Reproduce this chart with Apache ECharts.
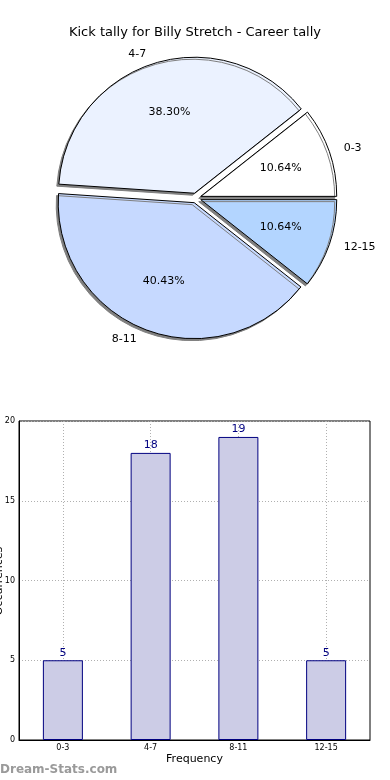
<!DOCTYPE html>
<html>
<head>
<meta charset="utf-8">
<script src="https://cdn.jsdelivr.net/npm/echarts@6/dist/echarts.min.js"></script>
<style>html,body{margin:0;padding:0;background:#fff}#c{width:390px;height:780px}</style>
</head>
<body>
<div id="c"></div>
<script>
const titleText = 'Kick tally for Billy Stretch - Career tally';
const yAxisTitle = 'Occurrences';
const categories = ['0-3', '4-7', '8-11', '12-15'];
const counts = [5, 18, 19, 5];
const yTicks = [0, 5, 10, 15, 20];
const pieColors = ['#ffffff', '#ebf2ff', '#c6d9ff', '#b3d5ff'];

const total = counts.reduce((a, b) => a + b, 0);
const font = 'DejaVu Sans';
const pieCenter = [196, 198];
const R = 136;

const pieData = categories.map((c, i) => ({
  name: c, value: counts[i], selected: true,
  itemStyle: { color: pieColors[i] }
}));

const chart = echarts.init(document.getElementById('c'), null, { renderer: 'canvas' });
chart.setOption({
  animation: false,
  backgroundColor: '#fff',
  title: {
    text: titleText, left: 'center', top: 21,
    textStyle: { fontFamily: font, fontSize: 13, fontWeight: 'normal', color: '#000' }
  },
  graphic: [{
    type: 'text', left: 0, top: 764,
    style: { text: 'Dream-Stats.com', fontFamily: font, fontSize: 12, fontWeight: 'bold', fill: '#9a9a9a' }
  }, {
    type: 'text', x: -1, y: 581, rotation: Math.PI / 2,
    style: { text: yAxisTitle, fontFamily: font, fontSize: 11, fill: '#000', align: 'center', verticalAlign: 'middle' }
  }],
  grid: {
    left: 19, right: 20, top: 421, bottom: 40,
    show: true, borderColor: '#000', borderWidth: 1,
    containLabel: false, outerBoundsMode: 'none'
  },
  xAxis: {
    type: 'category', data: categories,
    name: 'Frequency', nameLocation: 'middle', nameGap: 14, nameMoveOverlap: false,
    nameTextStyle: { fontFamily: font, fontSize: 11, color: '#000' },
    axisLine: { show: true, lineStyle: { color: '#000' } },
    axisTick: { show: true, alignWithLabel: true, inside: true, length: 319,
      lineStyle: { color: '#b0b0b0', type: [1, 2], width: 1 } },
    axisLabel: { fontFamily: font, fontSize: 8, color: '#000', margin: 4 },
    splitLine: { show: false }
  },
  yAxis: {
    type: 'value', min: 0, max: 20, interval: 5,
    axisLine: { show: true, lineStyle: { color: '#000' } },
    axisTick: { show: false },
    axisLabel: { fontFamily: font, fontSize: 8, color: '#000', margin: 4,
      formatter: v => yTicks.includes(v) ? String(v) : '' },
    splitLine: { show: true, lineStyle: { color: '#b0b0b0', type: [1, 2], width: 1 } }
  },
  series: [
    {
      type: 'bar', data: counts, barWidth: 40,
      itemStyle: { color: '#ccccE6', borderColor: '#000080', borderWidth: 1 },
      label: { show: true, position: 'top', distance: 2, fontFamily: font, fontSize: 11, color: '#000080' }
    },
    {
      type: 'pie', center: pieCenter, radius: R,
      startAngle: 0, clockwise: false,
      selectedMode: 'multiple', selectedOffset: 5,
      avoidLabelOverlap: false, silent: true,
      data: pieData,
      itemStyle: { borderColor: '#000', borderWidth: 1,
        shadowColor: '#7f7f7f', shadowBlur: 0, shadowOffsetX: -2, shadowOffsetY: 2 },
      label: { show: true, position: 'outside', fontFamily: font, fontSize: 11, color: '#000',
        distanceToLabelLine: 5 },
      labelLine: { show: false, length: 10, length2: 0 }
    },
    {
      type: 'pie', center: pieCenter, radius: [R * 0.2, R],
      startAngle: 0, clockwise: false,
      selectedMode: 'multiple', selectedOffset: 5,
      avoidLabelOverlap: false, silent: true, z: 5,
      data: categories.map((c, i) => ({ name: c, value: counts[i], selected: true })),
      itemStyle: { color: 'rgba(0,0,0,0)', borderWidth: 0 },
      label: { show: true, position: 'inside', fontFamily: font, fontSize: 11, color: '#000',
        formatter: p => (p.value / total * 100).toFixed(2) + '%' },
      labelLine: { show: false }
    }
  ]
});
</script>
</body>
</html>
